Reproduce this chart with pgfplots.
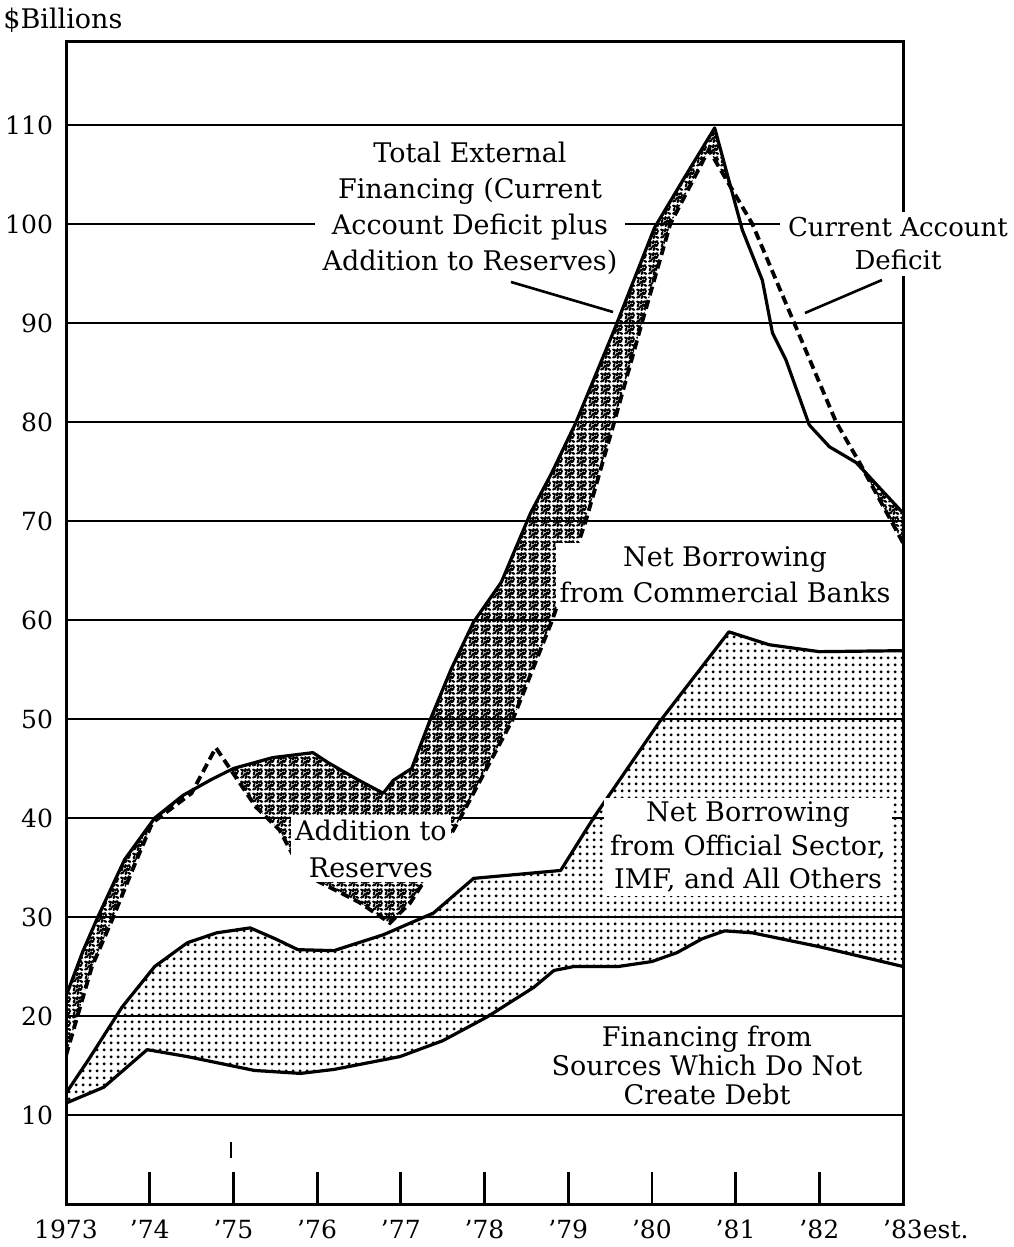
\documentclass[border=0pt]{standalone}
\usepackage{fontspec}
\setmainfont{DejaVu Serif}
\usepackage{pgfplots}
\pgfplotsset{compat=1.18}
\usepgfplotslibrary{fillbetween}
\usetikzlibrary{patterns}

\pgfdeclarepatternformonly{speckle}{\pgfqpoint{0pt}{0pt}}{\pgfqpoint{6pt}{6pt}}{\pgfqpoint{6pt}{6pt}}{%
  \pgfsetlinewidth{1.15pt}\pgfsetroundcap
  \pgfpathmoveto{\pgfqpoint{0.6pt}{0.8pt}}\pgfpathlineto{\pgfqpoint{1.8pt}{1.3pt}}
  \pgfpathmoveto{\pgfqpoint{3.0pt}{0.5pt}}\pgfpathlineto{\pgfqpoint{3.5pt}{1.6pt}}
  \pgfpathmoveto{\pgfqpoint{4.5pt}{1.1pt}}\pgfpathlineto{\pgfqpoint{5.5pt}{0.6pt}}
  \pgfpathmoveto{\pgfqpoint{0.9pt}{2.5pt}}\pgfpathlineto{\pgfqpoint{1.3pt}{3.7pt}}
  \pgfpathmoveto{\pgfqpoint{2.3pt}{2.4pt}}\pgfpathlineto{\pgfqpoint{3.5pt}{2.9pt}}
  \pgfpathmoveto{\pgfqpoint{4.4pt}{2.6pt}}\pgfpathlineto{\pgfqpoint{5.2pt}{3.6pt}}
  \pgfpathmoveto{\pgfqpoint{0.6pt}{5.1pt}}\pgfpathlineto{\pgfqpoint{1.8pt}{4.6pt}}
  \pgfpathmoveto{\pgfqpoint{2.6pt}{4.1pt}}\pgfpathlineto{\pgfqpoint{3.0pt}{5.4pt}}
  \pgfpathmoveto{\pgfqpoint{3.9pt}{4.8pt}}\pgfpathlineto{\pgfqpoint{5.1pt}{5.3pt}}
  \pgfpathmoveto{\pgfqpoint{2.0pt}{1.9pt}}\pgfpathlineto{\pgfqpoint{2.1pt}{1.9pt}}
  \pgfpathmoveto{\pgfqpoint{5.4pt}{4.3pt}}\pgfpathlineto{\pgfqpoint{5.5pt}{4.3pt}}
  \pgfpathmoveto{\pgfqpoint{3.8pt}{3.6pt}}\pgfpathlineto{\pgfqpoint{3.9pt}{3.6pt}}
  \pgfusepath{stroke}}

\pgfdeclarepatternformonly{mydots}{\pgfqpoint{0pt}{0pt}}{\pgfqpoint{3.3pt}{3.3pt}}{\pgfqpoint{3.3pt}{3.3pt}}{%
  \pgfpathcircle{\pgfqpoint{1.65pt}{1.65pt}}{0.85pt}\pgfusepath{fill}}

\begin{document}
\begin{tikzpicture}
\begin{axis}[
  at={(0,0)}, anchor=south west,
  scale only axis, width=418.5pt, height=581.5pt,
  xmin=0, xmax=10, ymin=0.91, ymax=118.38,
  axis line style={line width=1.5pt},
  xtick={0,1,2,3,4,5,6,7,8,9,10},
  xticklabels={1973,\mbox{\textquoteright74},\mbox{\textquoteright75},\mbox{\textquoteright76},\mbox{\textquoteright77},\mbox{\textquoteright78},\mbox{\textquoteright79},\mbox{\textquoteright80},\mbox{\textquoteright81},\mbox{\textquoteright82},\mbox{\textquoteright83}\rlap{est.}},
  xtick pos=bottom, tick align=inside,
  xtick style={line width=1.4pt, black},
  major tick length=16.5pt,
  ytick={10,20,30,40,50,60,70,80,90,100,110},
  yticklabels={10,20,30,40,50,60,70,80,90,100,110},
  ytick style={draw=none},
  ymajorgrids, grid style={line width=1.35pt, black},
  tick label style={font=\fontsize{12.5}{15}\selectfont},
  yticklabel style={xshift=-3pt},
  xticklabel style={yshift=-4pt},
]
% x = years after 1973
\addplot[name path=lower, line width=1.6pt, line join=round] coordinates {
(0.0,11.2) (0.45,12.8) (0.97,16.6) (1.45,15.9) (2.25,14.5) (2.8,14.2) (3.2,14.6) (3.99,15.9) (4.5,17.5) (5.03,19.9) (5.59,22.9) (5.83,24.6) (6.07,25.0) (6.6,25.0) (7.0,25.5) (7.3,26.4) (7.6,27.8) (7.87,28.6) (8.2,28.4) (9.0,27.0) (10.0,25.0)};
\addplot[name path=middle, line width=1.6pt, line join=round] coordinates {
(0.0,12.2) (0.27,15.6) (0.67,20.9) (1.06,25.0) (1.45,27.4) (1.8,28.4) (2.2,28.9) (2.5,27.8) (2.77,26.7) (3.2,26.6) (3.79,28.2) (4.39,30.4) (4.87,33.9) (5.91,34.7) (6.31,40.1) (7.09,49.7) (7.92,58.8) (8.4,57.5) (9.0,56.8) (10.0,56.9)};
\addplot[pattern=mydots, draw=none] fill between[of=lower and middle, on layer=axis background];
% addition to reserves: pieces where total financing exceeds the deficit
\addplot[name path=tA, draw=none] coordinates {(0.0,22.0) (0.2,26.5) (0.38,30.0) (0.7,35.8) (1.06,40.0) (1.4,42.3) (1.42,42.2)};
\addplot[name path=dA, draw=none] coordinates {(0.0,16.0) (0.31,25.0) (0.55,29.7) (0.83,35.5) (1.03,39.5) (1.42,42.2)};
\addplot[pattern=speckle, draw=none] fill between[of=tA and dA, on layer=axis background];
\addplot[name path=tB, draw=none] coordinates {(1.97,44.86) (2.0,45.0) (2.47,46.1) (2.95,46.6) (3.13,45.6) (3.5,43.8) (3.79,42.5) (3.91,43.8) (4.13,45.0) (4.35,49.9) (4.6,55.0) (4.87,59.8) (5.2,63.8) (5.55,70.8) (5.8,74.8) (6.09,79.9) (6.55,89.3) (7.03,99.6) (7.39,104.7) (7.75,109.7) (7.95,103.55)};
\addplot[name path=dB, draw=none] coordinates {(1.97,44.86) (2.27,41.1) (2.55,38.8) (2.81,34.7) (2.99,33.7) (3.5,31.5) (3.87,29.4) (4.11,31.4) (4.27,33.5) (4.71,40.0) (5.34,50.0) (5.81,60.0) (6.21,70.0) (6.55,80.0) (6.88,90.0) (7.22,100.0) (7.68,107.5) (7.95,103.55)};
\addplot[pattern=speckle, draw=none] fill between[of=tB and dB, on layer=axis background];
\addplot[name path=tC, draw=none] coordinates {(9.48,75.8) (10.0,70.8)};
\addplot[name path=dC, draw=none] coordinates {(9.48,75.8) (10.0,67.8)};
\addplot[pattern=speckle, draw=none] fill between[of=tC and dC, on layer=axis background];
% total external financing (solid) and current account deficit (dashed)
\addplot[line width=1.6pt, line join=round] coordinates {
(0.0,22.0) (0.2,26.5) (0.38,30.0) (0.7,35.8) (1.06,40.0) (1.4,42.3) (1.74,43.9) (2.0,45.0) (2.47,46.1) (2.95,46.6) (3.13,45.6) (3.5,43.8) (3.79,42.5) (3.91,43.8) (4.13,45.0) (4.35,49.9) (4.6,55.0) (4.87,59.8) (5.2,63.8) (5.55,70.8) (5.8,74.8) (6.09,79.9) (6.55,89.3) (7.03,99.6) (7.39,104.7) (7.75,109.7) (8.08,99.4) (8.32,94.3) (8.44,89.0) (8.6,86.3) (8.88,79.7) (9.12,77.5) (9.44,75.9) (10.0,70.8)};
\addplot[line width=1.9pt, dash pattern=on 4.5pt off 2.5pt] coordinates {
(0.0,16.0) (0.31,25.0) (0.55,29.7) (0.83,35.5) (1.03,39.5) (1.5,42.5) (1.79,47.1) (2.27,41.1) (2.55,38.8) (2.81,34.7) (2.99,33.7) (3.5,31.5) (3.87,29.4) (4.11,31.4) (4.27,33.5) (4.71,40.0) (5.34,50.0) (5.81,60.0) (6.21,70.0) (6.55,80.0) (6.88,90.0) (7.22,100.0) (7.68,107.5) (8.2,100.0) (8.7,90.0) (9.2,80.0) (9.48,75.9) (10.0,67.8)};
\end{axis}
\begin{scope}[shift={(-33pt,602.5pt)},x=0.5pt,y=-0.5pt]
  \node[anchor=west, inner sep=0pt, font=\fontsize{13.5}{16}\selectfont] at (3,20) {\$Billions};
  \node[fill=white, align=center, inner xsep=4pt, inner ysep=2pt, font=\fontsize{13.5}{18}\selectfont] at (470,208)
    {Total External\\Financing (Current\\Account Deficit plus\\Addition to Reserves)};
  \node[fill=white, align=center, inner xsep=4pt, inner ysep=3pt, font=\fontsize{13}{16.5}\selectfont] at (898,244)
    {Current Account\\Deficit};
  \node[fill=white, align=center, inner sep=2pt, font=\fontsize{13.5}{18}\selectfont] at (725,575)
    {Net Borrowing\\from Commercial Banks};
  \node[fill=white, align=center, inner xsep=3pt, inner ysep=2pt, font=\fontsize{13.5}{16.75}\selectfont] at (748,847)
    {Net Borrowing\\from Official Sector,\\IMF, and All Others};
  \node[fill=white, align=center, inner sep=2pt, font=\fontsize{13.5}{18.5}\selectfont] at (371,849)
    {Addition to\\Reserves};
  \node[align=center, inner sep=0pt, font=\fontsize{13.5}{14.5}\selectfont] at (707,1065)
    {Financing from\\Sources Which Do Not\\Create Debt};
  \draw[line width=1.3pt] (511,282) -- (613,312);
  \draw[line width=1.3pt] (882,280) -- (805,313);
  \draw[line width=1pt] (231,1142) -- (231,1158);
\end{scope}
\pgfresetboundingbox
\path[use as bounding box] (-33pt,-21pt) rectangle (473.5pt,602.5pt);
\end{tikzpicture}
\end{document}
